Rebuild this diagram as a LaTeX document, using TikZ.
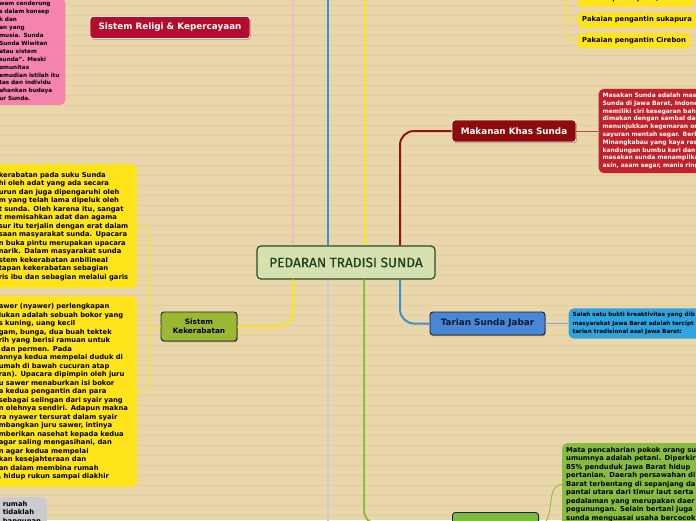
\documentclass[tikz,border=0pt]{standalone}
\usepackage{fontspec}
\setmainfont{DejaVu Sans}
\newfontfamily\rootfont[FakeBold=0.6]{Fira Sans}
\usetikzlibrary{arrows.meta,positioning,shadows,calc}

\definecolor{paper}{RGB}{233,214,170}
\definecolor{paperline}{RGB}{225,205,160}
\definecolor{rootfill}{RGB}{214,225,175}
\definecolor{rootedge}{RGB}{38,78,40}
\definecolor{roottext}{RGB}{30,66,34}
\definecolor{pinkbranch}{RGB}{246,185,203}
\definecolor{bluebranch}{RGB}{60,145,210}
\definecolor{greybranch}{RGB}{200,202,212}
\definecolor{yellowbranch}{RGB}{255,228,30}
\definecolor{redbranch}{RGB}{150,18,18}
\definecolor{greenbranch}{RGB}{140,192,66}
\definecolor{pinknote}{RGB}{244,132,174}
\definecolor{yellownote}{RGB}{255,227,27}
\definecolor{greynote}{RGB}{203,203,208}
\definecolor{rednote}{RGB}{192,34,44}
\definecolor{bluenote}{RGB}{46,164,224}
\definecolor{greennote}{RGB}{134,188,66}
\definecolor{religired}{RGB}{180,12,44}
\definecolor{makananred}{RGB}{142,11,11}
\definecolor{lightedge}{RGB}{250,235,235}
\definecolor{tarianblue}{RGB}{74,134,214}
\definecolor{tariantext}{RGB}{16,24,48}
\definecolor{kerabgreen}{RGB}{155,184,52}
\definecolor{leafgreen}{RGB}{124,186,63}
\definecolor{darkedge}{RGB}{30,34,40}
\definecolor{tarianlink}{RGB}{140,165,190}

\begin{document}
\begin{tikzpicture}[
    x=1pt, y=-1pt,
    >=Latex,
    root/.style={
        rectangle,
        draw=rootedge,
        line width=1.2pt,
        fill=rootfill,
        text=roottext,
        rounded corners=4pt,
        minimum width=178pt,
        minimum height=33pt,
        font=\rootfont\fontsize{13.6}{16}\selectfont
    },
    topic/.style={
        rectangle,
        draw,
        rounded corners=3pt,
        align=center,
        inner sep=2pt,
        line width=0.9pt,
        font=\fontsize{8.8}{10.5}\selectfont\bfseries,
        drop shadow={shadow xshift=0.8pt, shadow yshift=-1.2pt, opacity=0.3, fill=black}
    },
    note/.style={
        rectangle,
        rounded corners=5pt,
        align=left,
        inner xsep=4pt,
        inner ysep=4pt,
        text=black,
        font=\fontsize{6.8}{8.5}\selectfont\bfseries
    },
    smallnote/.style={note, font=\fontsize{5.7}{7.9}\selectfont\bfseries},
    tag/.style={note, rounded corners=3pt, inner ysep=2pt, minimum height=15.5pt, fill=yellownote},
    trunk/.style={draw, line width=2pt, rounded corners=14pt},
    twig/.style={draw, line width=0.9pt, rounded corners=7pt}
]

\useasboundingbox (0,0) rectangle (696,520);
\clip (0,0) rectangle (696,520);
\fill[paper] (0,0) rectangle (696,520);
\foreach \y in {5,15,...,515}
    \draw[paperline, line width=0.7pt] (0,\y) -- (696,\y);

\node[root] (root) at (346,262.5) {PEDARAN TRADISI SUNDA};

\node[topic, fill=religired, draw=lightedge, text=white, minimum width=160pt, minimum height=22pt] (religi) at (170,27.5) {Sistem Religi \& Kepercayaan};
\node[topic, fill=makananred, draw=lightedge, text=white, minimum width=124pt, minimum height=22pt] (makanan) at (514,131) {Makanan Khas Sunda};
\node[topic, fill=tarianblue, draw=darkedge, text=tariantext, minimum width=115pt, minimum height=23pt] (tarian) at (487.5,323.5) {Tarian Sunda Jabar};
\node[topic, fill=kerabgreen, draw=darkedge, text=black, minimum width=76pt, minimum height=29pt, font=\fontsize{7.3}{9}\selectfont\bfseries] (kerabatan) at (199,326.5) {Sistem\\Kekerabatan};
\node[topic, fill=leafgreen, draw=darkedge, minimum width=86pt, minimum height=24pt, anchor=north west] (pencaharian) at (452,512) {};

\node[smallnote, fill=pinknote, text width=62pt, anchor=south east] (religinote) at (65.5,105) {wam cenderung\\s dalam konsep\\k dan\\an yang\\musia. Sunda\\Sunda Wiwitan\\atau sistem\\sunda". Meski\\omunitas\\emudian istilah itu\\tas dan individu\\ahankan budaya\\ur Sunda.};

\node[note, fill=yellownote, text width=134pt, minimum height=124pt, anchor=north east] (adatnote) at (137,164) {kerabatan pada suku Sunda\\hi oleh adat yang ada secara\\urun dan juga dipengaruhi oleh\\m yang telah lama dipeluk oleh\\t sunda. Oleh karena itu, sangat\\t memisahkan adat dan agama\\sur itu terjalin dengan erat dalam\\saan masyarakat sunda. Upacara\\n buka pintu merupakan upacara\\narik. Dalam masyarakat sunda\\stem kekerabatan anbilineal\\tapan kekerabatan sebagian\\ris ibu dan sebagian melalui garis};
\node[note, fill=yellownote, text width=134pt, minimum height=191pt, anchor=north east] (sawernote) at (137,296) {awer (nyawer) perlengkapan\\lukan adalah sebuah bokor yang\\s kuning, uang kecil\\gam, bunga, dua buah tektek\\rih yang berisi ramuan untuk\\\ dan permen. Pada\\annya kedua mempelai duduk di\\umah di bawah cucuran atap\\ran). Upacara dipimpin oleh juru\\u sawer menaburkan isi bokor\\a kedua pengantin dan para\\sebagai selingan dari syair yang\\n olehnya sendiri. Adapun makna\\ra nyawer tersurat dalam syair\\mbangkan juru sawer, intinya\\mberikan nasehat kepada kedua\\agar saling mengasihani, dan\\n agar kedua mempelai\\kan kesejahteraan dan\\an dalam membina rumah\\, hidup rukun sampai diakhir};
\node[note, fill=greynote, text width=40pt, anchor=north east] (rumahnote) at (47,497) {rumah\\tidaklah\\bangunan};

\node[smallnote, fill=rednote, text=white, text width=130pt, minimum height=84pt, right=22pt of makanan, font=\fontsize{6}{7.8}\selectfont\bfseries] (makanannote) {Masakan Sunda adalah mas\\Sunda di Jawa Barat, Indone\\memiliki ciri kesegaran baha\\dimakan dengan sambal dan\\menunjukkan kegemaran or\\sayuran mentah segar. Berb\\Minangkabau yang kaya ras\\kandungan bumbu kari dan\\masakan sunda menampilka\\asin, asam segar, manis ring};
\node[smallnote, fill=bluenote, text width=130pt, minimum height=29pt, right=23pt of tarian, font=\fontsize{5.7}{8.3}\selectfont\bfseries] (tariannote) {Salah satu bukti kreaktivitas yang dib\\masyarakat Jawa Barat adalah tercipt\\tarian tradisional asal Jawa Barat:};
\node[note, fill=greennote, text width=140pt, anchor=north west] (pencahariannote) at (562,443) {Mata pencaharian pokok orang su\\umumnya adalah petani. Diperkir\\85\% penduduk Jawa Barat hidup\\pertanian. Daerah persawahan di\\Barat terbentang di sepanjang da\\pantai utara dari timur laut serta\\pedalaman yang merupakan daer\\pegunungan. Selain bertani juga\\sunda menguasai usaha bercocok};

\node[tag, anchor=south west, minimum width=115pt] (perempuan) at (578,7) {perempuan)};
\node[tag, anchor=west] (sukapura) at (578,20) {Pakaian pengantin sukapura};
\node[tag, anchor=west] (cirebon) at (578,40.5) {Pakaian pengantin Cirebon};

\coordinate (uppink) at (293,-4);
\coordinate (upblue) at (328,-4);
\coordinate (upyellow) at (365,-4);
\coordinate (downgrey) at (328,524);
\coordinate (kfork) at ($(kerabatan.west)+(-11,0)$);
\coordinate (pfork) at (566,-2);

\draw[trunk, pinkbranch] (root.north -| uppink) -- (uppink);
\draw[trunk, bluebranch] (root.north -| upblue) -- (upblue);
\draw[trunk, yellowbranch] (root.north -| upyellow) -- (upyellow);
\draw[trunk, redbranch] (root.north -| 400,0) |- (makanan.west);
\draw[trunk, greybranch] (root.south -| downgrey) -- (downgrey);
\draw[trunk, greenbranch] (root.south -| 364,0) |- (pencaharian.west);
\draw[trunk, bluebranch] (root.south -| 400,0) |- (tarian.west);
\draw[trunk, yellowbranch] (root.south -| 293,0) |- (kerabatan.east);

\draw[twig, yellowbranch] (kerabatan.west) -- (kfork);
\draw[twig, yellowbranch] (adatnote.east) -| (kfork) |- (sawernote.east);
\draw[twig, yellowbranch] (pfork) |- (sukapura.west);
\draw[twig, yellowbranch] (pfork) |- (cirebon.west);
\draw[twig, redbranch!75] (makanan.east) -- (makanannote.west);
\draw[twig, tarianlink] (tarian.east) -- (tariannote.west);
\draw[twig, greenbranch] (pencaharian.east) to[out=0, in=180] (pencahariannote.west);

\end{tikzpicture}
\end{document}
